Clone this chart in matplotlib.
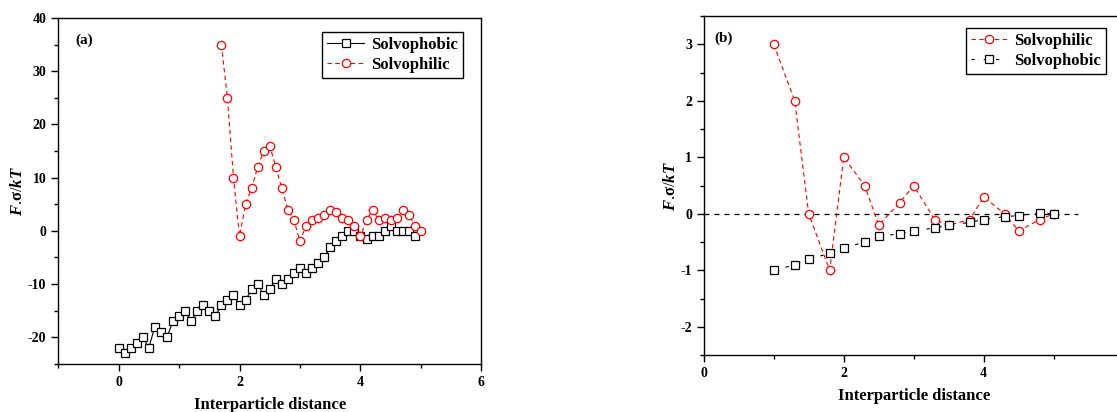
import numpy as np
import matplotlib
import matplotlib.pyplot as plt
from matplotlib.ticker import MultipleLocator, FixedLocator

matplotlib.use("Agg")

plt.rcParams['font.family'] = ['Liberation Serif', 'DejaVu Serif']
plt.rcParams['font.weight'] = 'bold'
plt.rcParams['axes.unicode_minus'] = False
plt.rcParams['mathtext.fontset'] = 'custom'
plt.rcParams['mathtext.it'] = 'Liberation Serif:italic:bold'
plt.rcParams['mathtext.bf'] = 'Liberation Serif:bold'
plt.rcParams['mathtext.rm'] = 'Liberation Serif:bold'

# Panel (a) data
xa_phob = [0.0, 0.1, 0.2, 0.3, 0.4, 0.5, 0.6, 0.7, 0.8, 0.9,
           1.0, 1.1, 1.2, 1.3, 1.4, 1.5, 1.6, 1.7, 1.8, 1.9,
           2.0, 2.1, 2.2, 2.3, 2.4, 2.5, 2.6, 2.7, 2.8, 2.9,
           3.0, 3.1, 3.2, 3.3, 3.4, 3.5, 3.6, 3.7, 3.8, 3.9,
           4.0, 4.1, 4.2, 4.3, 4.4, 4.5, 4.6, 4.7, 4.8, 4.9]
ya_phob = [-22, -23, -22, -21, -20, -22, -18, -19, -20, -17,
           -16, -15, -17, -15, -14, -15, -16, -14, -13, -12,
           -14, -13, -11, -10, -12, -11, -9, -10, -9, -8,
           -7, -8, -7, -6, -5, -3, -2, -1, 0, 0,
           -1, -1.5, -1, -1, 0, 1, 0, 0, 0, -1]
xa_phil = [1.7, 1.8, 1.9, 2.0, 2.1, 2.2, 2.3, 2.4, 2.5, 2.6,
           2.7, 2.8, 2.9, 3.0, 3.1, 3.2, 3.3, 3.4, 3.5, 3.6,
           3.7, 3.8, 3.9, 4.0, 4.1, 4.2, 4.3, 4.4, 4.5, 4.6,
           4.7, 4.8, 4.9, 5.0]
ya_phil = [35, 25, 10, -1, 5, 8, 12, 15, 16, 12,
           8, 4, 2, -2, 1, 2, 2.5, 3, 4, 3.5,
           2.5, 2, 1, -1, 2, 4, 2, 2.5, 2, 2.5,
           4, 3, 1, 0]

# Panel (b) data
xb = [1.0, 1.3, 1.5, 1.8, 2.0, 2.3, 2.5, 2.8, 3.0, 3.3, 3.5, 3.8, 4.0, 4.3, 4.5, 4.8, 5.0]
yb_phil = [3, 2, 0, -1, 1, 0.5, -0.2, 0.2, 0.5, -0.1, -0.2, -0.1, 0.3, 0, -0.3, -0.1, 0]
yb_phob = [-1, -0.9, -0.8, -0.7, -0.6, -0.5, -0.4, -0.35, -0.3, -0.25, -0.2, -0.15, -0.1,
           -0.05, -0.03, 0.02, 0]

fig = plt.figure(figsize=(11.17, 4.12), dpi=100)
ax1 = fig.add_axes([0.052, 0.117, 0.379, 0.839])
ax2 = fig.add_axes([0.630, 0.138, 0.376, 0.823])

mk = dict(markersize=6, markerfacecolor='white', markeredgewidth=0.9)

ax1.plot(xa_phob, ya_phob, color='black', marker='s', lw=0.8, label='Solvophobic', **mk)
ax1.plot(xa_phil, ya_phil, color='red', marker='o', lw=0.8, ls=(0, (4, 3)),
         label='Solvophilic', **mk)
ax1.set_xlim(-1, 6)
ax1.set_ylim(-25, 40)
ax1.xaxis.set_major_locator(MultipleLocator(2))
ax1.xaxis.set_minor_locator(MultipleLocator(1))
ax1.yaxis.set_major_locator(MultipleLocator(10))
ax1.yaxis.set_minor_locator(MultipleLocator(5))
ax1.text(0.04, 0.925, '(a)', transform=ax1.transAxes, fontsize=11, fontweight='bold')

ax2.axhline(0, xmin=0, xmax=5.35 / 6, color='black', lw=0.9, ls=(0, (4, 4)))
ax2.plot(xb, yb_phil, color='red', marker='o', lw=0.8, ls=(0, (4, 3)),
         label='Solvophilic', **mk)
ax2.plot(xb, yb_phob, color='black', marker='s', lw=0.8, ls=(0, (3, 8)),
         label='Solvophobic', **mk)
ax2.set_xlim(0, 6)
ax2.set_ylim(-2.5, 3.5)
ax2.xaxis.set_major_locator(FixedLocator([0, 2, 4]))
ax2.xaxis.set_minor_locator(FixedLocator([1, 3, 5]))
ax2.yaxis.set_major_locator(MultipleLocator(1))
ax2.yaxis.set_minor_locator(MultipleLocator(0.5))
ax2.text(0.025, 0.925, '(b)', transform=ax2.transAxes, fontsize=11, fontweight='bold')

for ax, anchor in ((ax1, (0.975, 0.985)), (ax2, (0.977, 0.99))):
    ax.tick_params(which='both', direction='out', top=False, right=False,
                   labelsize=10, width=1)
    ax.tick_params(which='major', length=5)
    ax.tick_params(which='minor', length=3)
    for lab in ax.get_xticklabels() + ax.get_yticklabels():
        lab.set_fontweight('bold')
    for sp in ax.spines.values():
        sp.set_linewidth(1)
    ax.set_xlabel('Interparticle distance', fontsize=12, fontweight='bold', labelpad=6)
    ax.set_ylabel(r'$F$.$\mathbf{\sigma}$/$kT$', fontsize=12, labelpad=1)
    leg = ax.legend(loc='upper right', fontsize=12, fancybox=False, edgecolor='black',
                    framealpha=1, handlelength=2.2, borderpad=0.3, labelspacing=0.25,
                    handletextpad=0.4, bbox_to_anchor=anchor)
    leg.get_frame().set_linewidth(1)
    for t in leg.get_texts():
        t.set_fontweight('bold')

fig.savefig('out.png', dpi=100, facecolor='white')
plt.close(fig)
